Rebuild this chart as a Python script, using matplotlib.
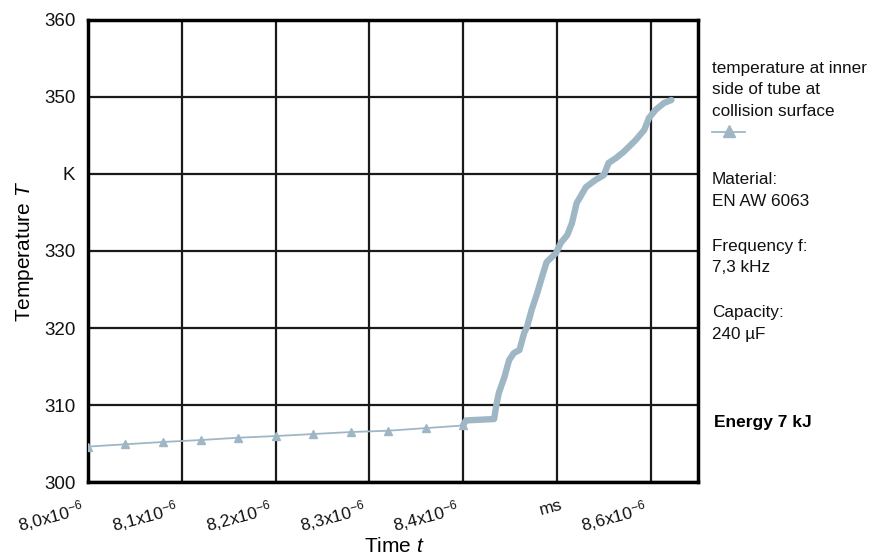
import matplotlib.pyplot as plt
import matplotlib.transforms as mtransforms
import numpy as np

plt.rcParams['font.family'] = ['Liberation Sans', 'DejaVu Sans']
plt.rcParams['mathtext.fontset'] = 'custom'
plt.rcParams['mathtext.rm'] = 'Liberation Sans'
plt.rcParams['mathtext.it'] = 'Liberation Sans:italic'

# time in units of 1e-6, temperature in K
t_slow = [8.00, 8.04, 8.08, 8.12, 8.16, 8.20, 8.24, 8.28, 8.32, 8.36, 8.40]
T_slow = [304.6, 304.9, 305.2, 305.45, 305.75, 305.97, 306.23, 306.49, 306.66, 307.0, 307.34]

t_fast = [8.400, 8.403, 8.433, 8.435, 8.438, 8.444, 8.449, 8.454, 8.460, 8.465,
          8.468, 8.473, 8.479, 8.484, 8.489, 8.499, 8.504, 8.511, 8.516, 8.521,
          8.531, 8.541, 8.550, 8.555, 8.563, 8.571, 8.584, 8.593, 8.598, 8.605,
          8.614, 8.622]
T_fast = [307.4, 308.0, 308.18, 309.74, 311.56, 313.64, 315.84, 316.75, 317.14, 319.35,
          320.13, 322.34, 324.55, 326.62, 328.57, 329.74, 331.04, 332.08, 333.64, 336.23,
          338.31, 339.22, 339.87, 341.43, 342.08, 342.86, 344.42, 345.71, 347.27, 348.31,
          349.22, 349.61]

x_ticks = [8.0, 8.1, 8.2, 8.3, 8.4, 8.5, 8.6]
x_labels = [r'8,0x10$^{-6}$', r'8,1x10$^{-6}$', r'8,2x10$^{-6}$', r'8,3x10$^{-6}$',
            r'8,4x10$^{-6}$', 'ms', r'8,6x10$^{-6}$']
y_ticks = [300, 310, 320, 330, 340, 350, 360]
y_labels = ['300', '310', '320', '330', 'K', '350', '360']

line_color = '#9fb7c5'

fig = plt.figure(figsize=(8.71, 5.55), dpi=100)
ax = fig.add_axes([0.101, 0.1315, 0.700, 0.8325])

ax.plot(t_slow, T_slow, color=line_color, lw=1.3, marker='^', ms=5.5, zorder=3)
ax.plot(t_fast, T_fast, color=line_color, lw=4.6, solid_capstyle='round',
        solid_joinstyle='round', zorder=3)

ax.set_xlim(8.0, 8.65)
ax.set_ylim(300, 360)
ax.set_xticks(x_ticks)
ax.set_xticklabels(x_labels, rotation=15, ha='right', va='top', rotation_mode='anchor')
ax.set_yticks(y_ticks)
ax.set_yticklabels(y_labels)
ax.tick_params(length=0, labelsize=13.5, colors='#111111', pad=9)
ax.tick_params(axis='x', labelsize=12.5, pad=11)
# shift x labels so their right end sits just left of the grid line
offset = mtransforms.ScaledTranslation(-7 / 100, 0, fig.dpi_scale_trans)
for lbl in ax.get_xticklabels():
    lbl.set_transform(lbl.get_transform() + offset)
ms_lbl = ax.get_xticklabels()[5]
ms_lbl.set_transform(ms_lbl.get_transform() +
                     mtransforms.ScaledTranslation(10 / 100, 0, fig.dpi_scale_trans))

ax.grid(True, color='#1a1a1a', lw=1.6)
ax.set_axisbelow(True)
for sp in ax.spines.values():
    sp.set_linewidth(2.5)
    sp.set_color('black')

ax.set_xlabel(r'Time $\it{t}$', fontsize=15, va='center')
ax.xaxis.set_label_coords(0.503, -0.14)
ax.set_ylabel(r'Temperature $\it{T}$', fontsize=15, labelpad=6)

# side notes
fx = 712 / 871
def fy(py):
    return 1 - py / 555

side = [
    ('temperature at inner', 68), ('side of tube at', 90), ('collision surface', 111),
    ('Material:', 180), ('EN AW 6063', 201),
    ('Frequency f:', 246), ('7,3 kHz', 268),
    ('Capacity:', 312), ('240 \u00b5F', 334),
]
for txt, py in side:
    fig.text(fx, fy(py), txt, fontsize=12.3, va='center', ha='left', color='#111111')
fig.text(fx + 2 / 871, fy(422), 'Energy 7 kJ', fontsize=12.5, fontweight='bold',
         va='center', ha='left')

# legend sample
lx = np.array([712, 745]) / 871
fig.add_artist(plt.Line2D(lx, [fy(132), fy(132)], color=line_color, lw=1.3,
                          transform=fig.transFigure))
fig.add_artist(plt.Line2D([lx.mean()], [fy(131)], color=line_color, marker='^', ms=8,
                          transform=fig.transFigure))

fig.savefig('out.png', dpi=100)
